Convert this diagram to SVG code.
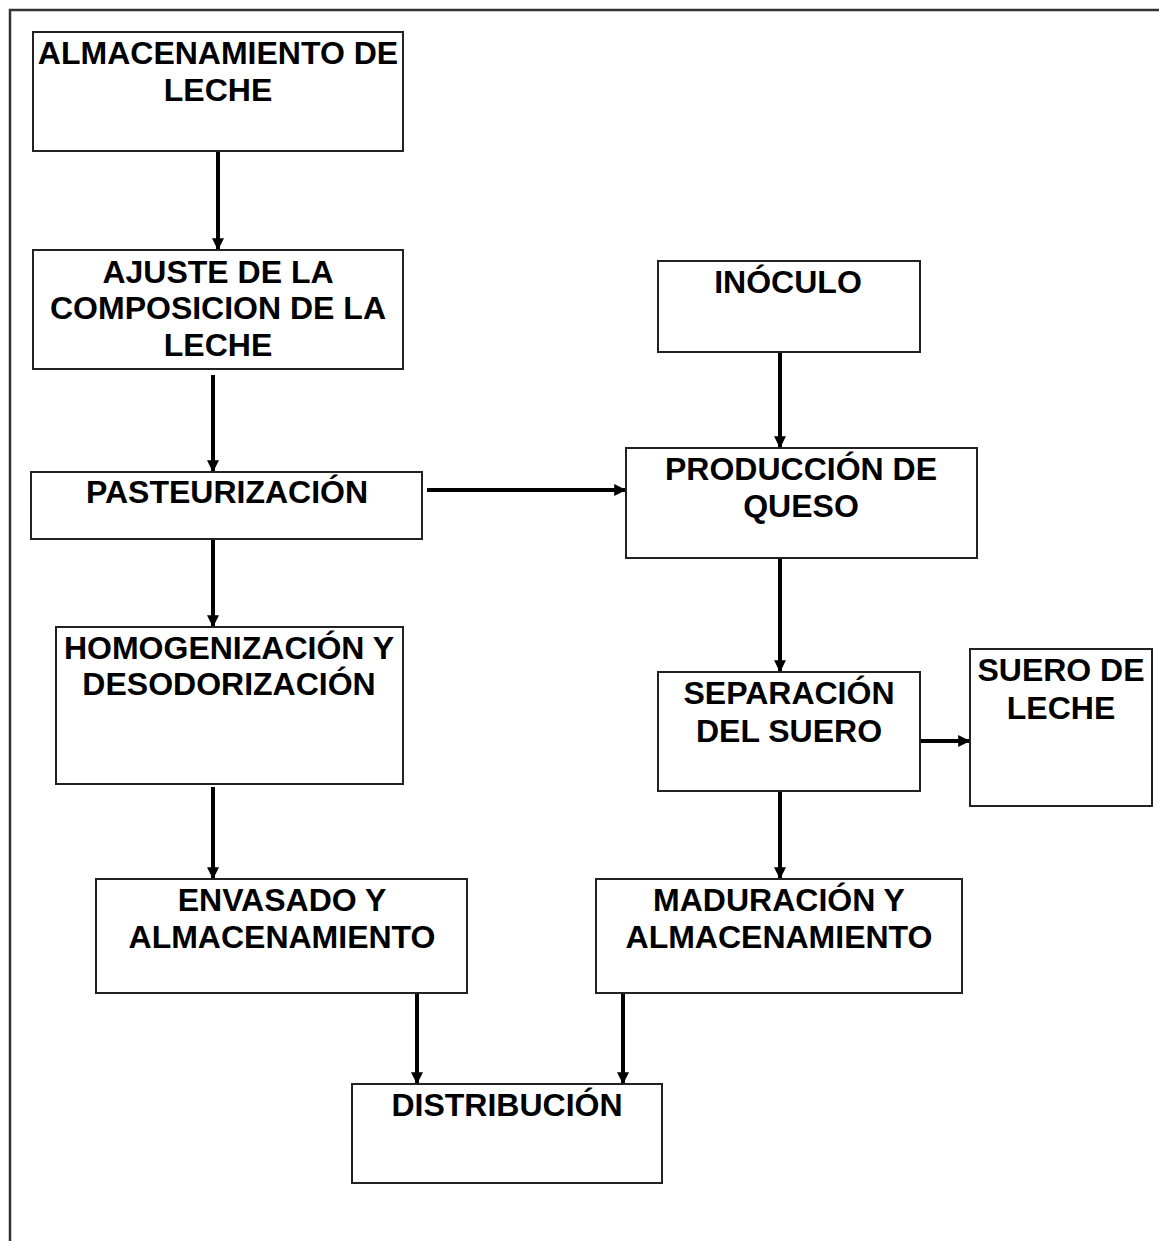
<svg xmlns="http://www.w3.org/2000/svg" width="1159" height="1241" viewBox="0 0 1159 1241">
<style>
.box{fill:#fff;stroke:#222;stroke-width:2}
.t{font-family:"Liberation Sans",Arial,sans-serif;font-weight:bold;font-size:32px;fill:#000;text-anchor:middle}
.c{stroke:#000;stroke-width:4;fill:none;marker-end:url(#ah)}
</style>
<defs>
<marker id="ah" viewBox="0 0 10 10" refX="9" refY="5" markerWidth="3.2" markerHeight="3" orient="auto" markerUnits="strokeWidth">
<path d="M0,0 L10,5 L0,10 Z" fill="#000"/>
</marker>
</defs>
<rect width="1159" height="1241" fill="#fff"/>
<path d="M10,1241 V10 H1159" fill="none" stroke="#333" stroke-width="2.5"/>
<g id="connectors">
<line class="c" x1="218" y1="151" x2="218" y2="249"/>
<line class="c" x1="213" y1="375" x2="213" y2="471"/>
<line class="c" x1="213" y1="537" x2="213" y2="626"/>
<line class="c" x1="213" y1="787" x2="213" y2="878"/>
<line class="c" x1="427" y1="490" x2="625" y2="490"/>
<line class="c" x1="780" y1="352" x2="780" y2="447"/>
<line class="c" x1="780" y1="558" x2="780" y2="671"/>
<line class="c" x1="920" y1="741" x2="969" y2="741"/>
<line class="c" x1="780" y1="791" x2="780" y2="878"/>
<line class="c" x1="417" y1="993" x2="417" y2="1083"/>
<line class="c" x1="623" y1="993" x2="623" y2="1083"/>
</g>
<g id="n1"><rect class="box" x="33" y="32" width="370" height="119"/><text class="t" x="218" y="64">ALMACENAMIENTO DE</text><text class="t" x="218" y="101">LECHE</text></g>
<g id="n2"><rect class="box" x="33" y="250" width="370" height="119"/><text class="t" x="218" y="283">AJUSTE DE LA</text><text class="t" x="218" y="319">COMPOSICION DE LA</text><text class="t" x="218" y="356">LECHE</text></g>
<g id="n3"><rect class="box" x="31" y="472" width="391" height="67"/><text class="t" x="227" y="503">PASTEURIZACIÓN</text></g>
<g id="n4"><rect class="box" x="56" y="627" width="347" height="157"/><text class="t" x="229" y="659">HOMOGENIZACIÓN Y</text><text class="t" x="229" y="695">DESODORIZACIÓN</text></g>
<g id="n5"><rect class="box" x="96" y="879" width="371" height="114"/><text class="t" x="282" y="911">ENVASADO Y</text><text class="t" x="282" y="948">ALMACENAMIENTO</text></g>
<g id="n6"><rect class="box" x="352" y="1084" width="310" height="99"/><text class="t" x="507" y="1116">DISTRIBUCIÓN</text></g>
<g id="n7"><rect class="box" x="658" y="261" width="262" height="91"/><text class="t" x="788" y="293">INÓCULO</text></g>
<g id="n8"><rect class="box" x="626" y="448" width="351" height="110"/><text class="t" x="801" y="480">PRODUCCIÓN DE</text><text class="t" x="801" y="517">QUESO</text></g>
<g id="n9"><rect class="box" x="658" y="672" width="262" height="119"/><text class="t" x="789" y="704">SEPARACIÓN</text><text class="t" x="789" y="742">DEL SUERO</text></g>
<g id="n10"><rect class="box" x="970" y="649" width="182" height="157"/><text class="t" x="1061" y="681">SUERO DE</text><text class="t" x="1061" y="719">LECHE</text></g>
<g id="n11"><rect class="box" x="596" y="879" width="366" height="114"/><text class="t" x="779" y="911">MADURACIÓN Y</text><text class="t" x="779" y="948">ALMACENAMIENTO</text></g>
</svg>
